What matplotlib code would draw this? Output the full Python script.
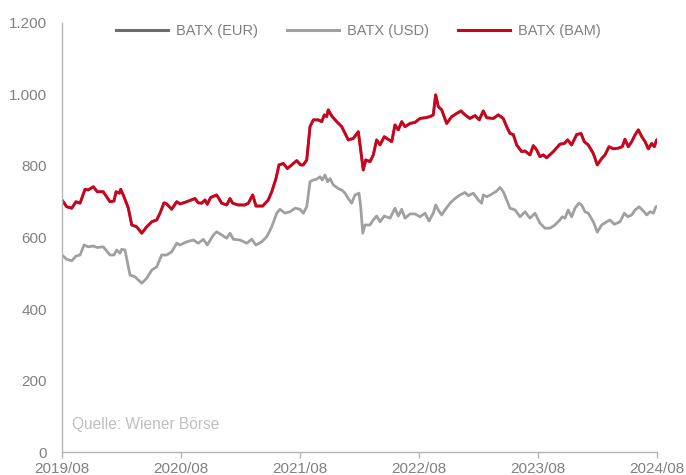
#!/usr/bin/env python3
"""
BATX index in EUR, USD and BAM, 2019/08 - 2024/08.
"""

import matplotlib
matplotlib.use('Agg')
import matplotlib.pyplot as plt
from matplotlib.ticker import FuncFormatter

# Months since 2019/08 and index values
bam_months = [0.0, 0.47, 0.98, 1.41, 1.82, 2.32, 2.65, 3.16, 3.56, 4.16, 4.84, 5.24, 5.45, 5.78,
              5.92, 6.25, 6.69, 7.03, 7.53, 8.04, 8.54, 9.05, 9.55, 9.88, 10.29, 10.56, 11.06,
              11.57, 11.90, 12.57, 13.41, 13.74, 14.09, 14.42, 14.65, 14.99, 15.60, 16.10,
              16.61, 16.94, 17.21, 17.78, 18.45, 18.79, 19.23, 19.56, 20.24, 20.80, 21.15,
              21.58, 21.88, 22.32, 22.72, 23.16, 23.67, 24.07, 24.33, 24.68, 25.01, 25.34,
              25.85, 26.19, 26.45, 26.69, 26.85, 27.20, 27.70, 28.21, 28.87, 29.37, 29.88,
              30.05, 30.22, 30.38, 30.63, 31.06, 31.39, 31.73, 32.07, 32.50, 33.25, 33.58,
              33.91, 34.26, 34.59, 35.09, 35.60, 36.10, 36.61, 37.11, 37.44, 37.68, 37.95,
              38.29, 38.79, 39.30, 39.80, 40.24, 40.64, 41.14, 41.65, 42.08, 42.48, 42.83,
              43.49, 44.00, 44.50, 44.84, 45.18, 45.51, 45.85, 46.36, 46.69, 47.19, 47.53,
              47.87, 48.20, 48.54, 48.87, 49.54, 50.21, 50.65, 50.99, 51.39, 51.90, 52.34,
              52.67, 53.07, 53.58, 53.98, 54.42, 54.76, 55.16, 55.60, 56.10, 56.50, 56.77,
              57.11, 57.45, 57.79, 58.12, 58.47, 58.80, 59.13, 59.47, 59.73, 59.97, 60.20]
bam_values = [705, 686, 682, 700, 696, 735, 733, 742, 728, 728, 700, 702, 728, 724,
              735, 714, 682, 635, 630, 612, 630, 644, 649, 668, 697, 694, 679,
              700, 694, 700, 709, 697, 696, 705, 693, 712, 719, 696,
              691, 709, 696, 691, 691, 696, 719, 688, 688, 705, 728,
              765, 803, 807, 793, 803, 815, 803, 803, 817, 910, 929,
              929, 924, 943, 938, 957, 940, 924, 910, 873, 877, 896,
              859, 821, 789, 817, 812, 831, 873, 859, 882, 868, 915,
              901, 924, 910, 919, 922, 933, 935, 938, 943, 999, 966,
              957, 919, 938, 947, 954, 943, 933, 941, 929, 954, 935,
              933, 943, 933, 910, 891, 888, 859, 840, 842, 831, 857,
              845, 826, 831, 823, 840, 861, 863, 873, 859, 888, 891,
              868, 859, 835, 803, 821, 831, 854, 848, 850, 854, 875,
              854, 868, 887, 901, 882, 868, 848, 863, 854, 873, 877]

usd_months = [0.0, 0.47, 0.98, 1.41, 1.82, 2.22, 2.65, 3.16, 3.56, 4.16, 4.84, 5.24, 5.52, 5.85,
              6.02, 6.35, 6.86, 7.36, 8.04, 8.54, 9.05, 9.55, 10.05, 10.56, 11.06, 11.57,
              11.90, 12.57, 13.24, 13.74, 14.25, 14.65, 15.26, 15.60, 16.10, 16.61, 16.94,
              17.28, 17.95, 18.63, 19.13, 19.56, 20.14, 20.64, 21.15, 21.65, 21.98, 22.49,
              22.99, 23.50, 24.00, 24.33, 24.68, 25.01, 25.34, 25.68, 26.02, 26.25, 26.52,
              26.79, 27.03, 27.36, 27.86, 28.21, 28.54, 28.87, 29.21, 29.55, 29.95, 30.12,
              30.33, 30.55, 31.06, 31.39, 31.73, 32.07, 32.50, 33.08, 33.58, 33.91, 34.26,
              34.59, 35.09, 35.60, 36.10, 36.61, 37.01, 37.44, 37.68, 37.95, 38.29, 38.62,
              39.13, 39.63, 40.14, 40.64, 40.97, 41.48, 41.98, 42.32, 42.48, 42.83, 43.33,
              43.84, 44.17, 44.50, 44.84, 45.18, 45.69, 46.19, 46.69, 47.19, 47.70, 48.20,
              48.71, 49.21, 49.71, 50.21, 50.44, 50.72, 51.05, 51.39, 51.73, 52.13, 52.40,
              52.74, 53.07, 53.58, 53.98, 54.42, 54.93, 55.26, 55.70, 56.27, 56.71, 57.05,
              57.45, 57.79, 58.19, 58.53, 58.97, 59.30, 59.64, 59.88, 60.20]
usd_values = [551, 539, 535, 548, 551, 579, 574, 576, 572, 574, 551, 551, 565, 556,
              567, 565, 495, 490, 472, 486, 509, 518, 551, 551, 560, 584,
              579, 588, 593, 584, 595, 579, 607, 616, 607, 598, 612,
              595, 593, 584, 595, 579, 588, 602, 630, 668, 679, 668,
              672, 682, 679, 668, 686, 756, 761, 763, 770, 761, 775,
              756, 765, 747, 737, 733, 724, 709, 696, 719, 724, 686,
              612, 635, 635, 649, 660, 644, 660, 654, 682, 660, 679,
              654, 666, 666, 658, 668, 646, 668, 691, 677, 663, 677,
              696, 709, 719, 726, 717, 724, 705, 696, 719, 714, 721,
              730, 740, 728, 705, 682, 677, 658, 672, 654, 668, 640,
              626, 626, 635, 649, 658, 654, 677, 658, 682, 696, 691,
              672, 668, 644, 615, 635, 644, 649, 637, 644, 668, 658,
              663, 677, 686, 677, 663, 672, 668, 686, 689]

# EUR line lies exactly under the BAM line in the reference
eur_months = bam_months
eur_values = bam_values

tick_months = [0, 12, 24, 36, 48, 60]
tick_labels = ['2019/08', '2020/08', '2021/08', '2022/08', '2023/08', '2024/08']
y_ticks = [0, 200, 400, 600, 800, 1000, 1200]

TEXT_GREY = '#808080'
AXIS_GREY = '#b4b4b4'
RED = '#d0021b'
USD_GREY = '#a0a0a0'
EUR_GREY = '#6d6d6d'

plt.rcParams['font.family'] = ['Liberation Sans', 'DejaVu Sans']

fig = plt.figure(figsize=(6.86, 4.75), dpi=100)
ax = fig.add_axes([0.0904, 0.0484, 0.8673, 0.9032])

ax.plot(eur_months, eur_values, color=EUR_GREY, linewidth=2.0, label='BATX (EUR)')
ax.plot(usd_months, usd_values, color=USD_GREY, linewidth=2.0, label='BATX (USD)')
ax.plot(bam_months, bam_values, color=RED, linewidth=2.0, label='BATX (BAM)')

ax.set_xlim(0, 60)
ax.set_ylim(0, 1200)
ax.set_xticks(tick_months)
ax.set_xticklabels(tick_labels)
ax.set_yticks(y_ticks)
ax.yaxis.set_major_formatter(FuncFormatter(lambda v, _: f'{int(v):,}'.replace(',', '.')))

for side in ['top', 'right']:
    ax.spines[side].set_visible(False)
for side in ['left', 'bottom']:
    ax.spines[side].set_color(AXIS_GREY)
    ax.spines[side].set_linewidth(1.0)

ax.tick_params(axis='x', colors=TEXT_GREY, labelsize=11, length=4, width=1.0,
               color=AXIS_GREY, pad=3)
ax.tick_params(axis='y', colors=TEXT_GREY, labelsize=11, length=0, pad=11)

leg = ax.legend(loc='center', bbox_to_anchor=(0.522, 0.934), bbox_transform=fig.transFigure,
                ncol=3, frameon=False, fontsize=10.5, handlelength=3.6,
                handletextpad=0.5, columnspacing=2.0)
for t in leg.get_texts():
    t.set_color(TEXT_GREY)
for h in leg.get_lines():
    h.set_linewidth(2.2)

ax.text(0.017, 0.047, 'Quelle: Wiener Börse', transform=ax.transAxes,
        fontsize=11.2, color='#c0c0c0', ha='left', va='bottom')

fig.savefig('out.png', dpi=100)
